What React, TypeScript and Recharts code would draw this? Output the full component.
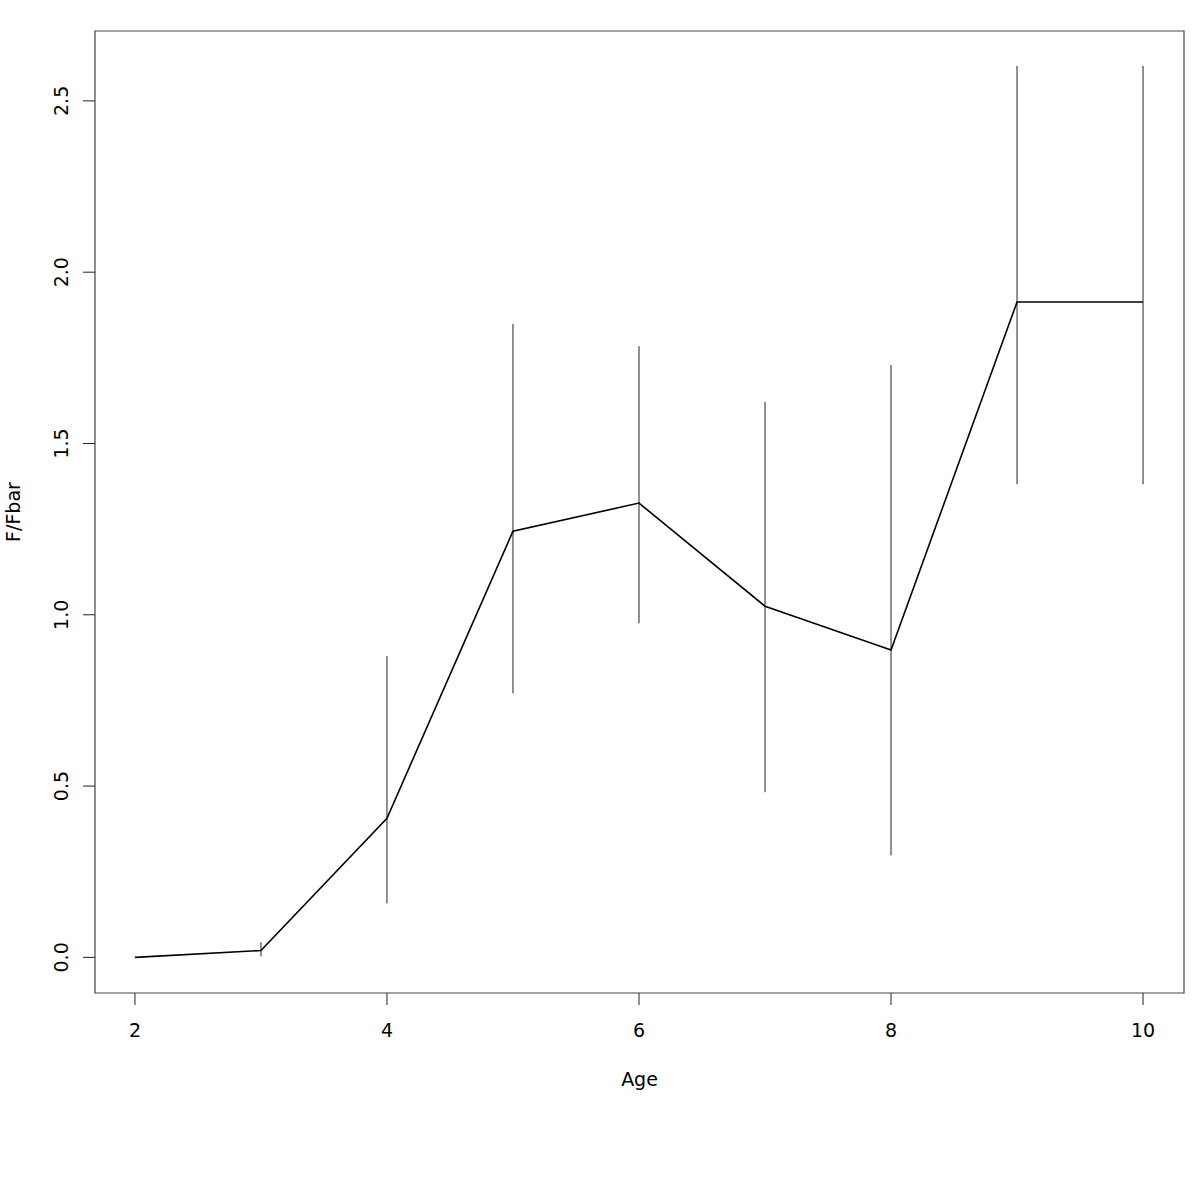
import React from 'react';
import { ComposedChart, Line, XAxis, YAxis, ErrorBar, ReferenceArea } from 'recharts';

const ages = [2, 3, 4, 5, 6, 7, 8, 9, 10];
const ratio = [0.0, 0.02, 0.406, 1.244, 1.326, 1.025, 0.897, 1.913, 1.913];
const lower = [0.0, 0.003, 0.158, 0.771, 0.975, 0.482, 0.298, 1.381, 1.381];
const upper = [0.0, 0.044, 0.879, 1.849, 1.784, 1.621, 1.729, 2.602, 2.602];
const xTicks = [2, 4, 6, 8, 10];
const yTicks = [0, 0.5, 1.0, 1.5, 2.0, 2.5];
const yTickLabels = ['0.0', '0.5', '1.0', '1.5', '2.0', '2.5'];
const xDomain = [1.683, 10.325];
const yDomain = [-0.104, 2.704];

const data = ages.map((a, i) => ({
  age: a,
  value: ratio[i],
  err: [ratio[i] - lower[i], upper[i] - ratio[i]],
}));

const FONT = 'DejaVu Sans, sans-serif';
const FS = 19;

const XTick = (props: any) => {
  const { x, payload } = props;
  return (
    <text x={x} y={1037} textAnchor="middle" fontFamily={FONT} fontSize={FS} fill="#000">
      {String(payload.value)}
    </text>
  );
};

const YTick = (props: any) => {
  const { y, payload } = props;
  const idx = yTicks.indexOf(payload.value);
  const lbl = idx >= 0 ? yTickLabels[idx] : String(payload.value);
  return (
    <text x={68} y={y} textAnchor="middle" fontFamily={FONT} fontSize={FS} fill="#000" transform={`rotate(-90, 68, ${y})`}>
      {lbl}
    </text>
  );
};

export default function App() {
  return (
    <div style={{ position: 'absolute', left: 0, top: 0, background: '#fff' }}>
      <ComposedChart width={1200} height={1200} data={data} margin={{ top: 31, right: 16, bottom: 0, left: 0 }}>
        <XAxis
          dataKey="age"
          type="number"
          domain={xDomain}
          ticks={xTicks}
          axisLine={false}
          tickLine={{ stroke: '#222', strokeWidth: 1 }}
          tickSize={12}
          height={207}
          tick={<XTick />}
          label={(p: any) => {
            const vb = p.viewBox || {};
            const cx = (vb.x ?? 95) + (vb.width ?? 1089) / 2;
            return (
              <text x={cx} y={1086} textAnchor="middle" fontFamily={FONT} fontSize={FS} fill="#000">Age</text>
            );
          }}
        />
        <YAxis
          type="number"
          domain={yDomain}
          ticks={yTicks}
          axisLine={false}
          tickLine={{ stroke: '#222', strokeWidth: 1 }}
          tickSize={12}
          width={95}
          tick={<YTick />}
          label={(p: any) => {
            const vb = p.viewBox || {};
            const cy = (vb.y ?? 31) + (vb.height ?? 962) / 2;
            return (
              <text x={20} y={cy} textAnchor="middle" fontFamily={FONT} fontSize={FS} fill="#000" transform={`rotate(-90, 20, ${cy})`}>F/Fbar</text>
            );
          }}
        />
        <ReferenceArea
          x1={xDomain[0]}
          x2={xDomain[1]}
          y1={yDomain[0]}
          y2={yDomain[1]}
          ifOverflow="visible"
          fill="none"
          fillOpacity={0}
          stroke="#444"
          strokeWidth={1.2}
        />
        <Line
          dataKey="value"
          type="linear"
          stroke="#000"
          strokeWidth={1.6}
          dot={false}
          isAnimationActive={false}
        >
          <ErrorBar dataKey="err" width={0} stroke="#222" strokeWidth={1} direction="y" />
        </Line>
      </ComposedChart>
    </div>
  );
}
